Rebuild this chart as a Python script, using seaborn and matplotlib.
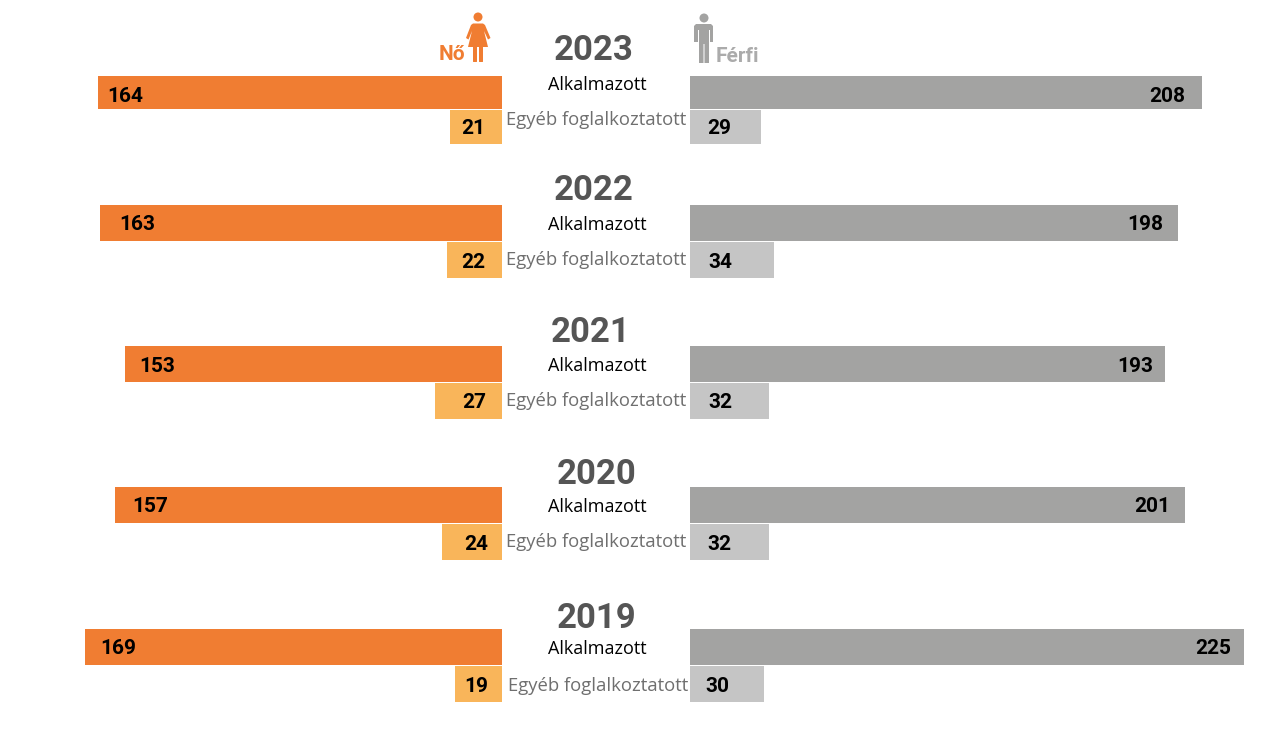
"""
Employees by gender and employment type, 2019-2023 (butterfly bars).
"""
import matplotlib
matplotlib.use('Agg')
import matplotlib.pyplot as plt
from matplotlib.patches import Circle, Polygon, FancyBboxPatch
import pandas as pd
import seaborn as sns

YEARS = ['2023', '2022', '2021', '2020', '2019']
KINDS = ['Alkalmazott', 'Egyéb foglalkoztatott']
WOMEN_EMPLOYED = [164, 163, 153, 157, 169]
WOMEN_OTHER = [21, 22, 27, 24, 19]
MEN_EMPLOYED = [208, 198, 193, 201, 225]
MEN_OTHER = [29, 34, 32, 32, 30]

WIDTH, HEIGHT = 1281, 730
PX_PER_UNIT = 2.463
LEFT_BASE = 501.5
RIGHT_BASE = 690
# top and bottom pixel of each year's bar pair
ROW_SPANS = [(75.5, 144), (204.5, 278), (345.5, 419), (486.5, 560), (628.5, 702)]
YEAR_POS = [(594, 48), (594, 188), (591, 330), (597, 472), (597, 616)]
LABEL_Y = [(83, 119), (223, 259), (364, 400), (505, 541), (647, 685)]
OTHER_LABEL_X = [596, 596, 596, 596, 598]
# value label centres
W_EMP_X = [125.5, 137.5, 157.5, 150.5, 118.5]
W_OTH_X = [473, 473, 474, 476.5, 476.5]
M_EMP_X = [1167.5, 1145.5, 1135.5, 1152.5, 1213.5]
M_OTH_X = [719, 720, 720, 719.5, 717.5]
BAR_Y = [(94, 127), (223, 260), (364, 401), (505, 542), (647, 684)]

ORANGE = '#F07D32'
LIGHT_ORANGE = '#F9B55A'
GREY = '#A3A3A2'
LIGHT_GREY = '#C5C5C5'


def bar_panel(rect, values, colors, xlim):
    """
    Draws one pair of bars in an axes placed at the pixel rect
    (left, top, right, bottom).
    """
    left, top, right, bottom = rect
    ax = plt.gcf().add_axes([left / WIDTH, 1 - bottom / HEIGHT,
                             (right - left) / WIDTH, (bottom - top) / HEIGHT])
    data = pd.DataFrame({'kind': KINDS, 'value': values})
    sns.barplot(data=data, x='value', y='kind', hue='kind', palette=colors,
                legend=False, width=0.98, saturation=1, linewidth=0, ax=ax)
    ax.set_xlim(*xlim)
    ax.set_ylim(1.5, -0.5)
    ax.axis('off')


def draw_icons(ax):
    """
    Draws the woman and man pictograms in pixel coordinates.
    """
    ax.add_patch(Circle((478, 17), 4.5, color=ORANGE, lw=0))
    ax.add_patch(Polygon([(473, 23.5), (483, 23.5), (485, 25), (490.5, 38),
                          (488, 39.5), (484, 31), (488, 47), (468, 47),
                          (472, 31), (468.5, 39.5), (466, 38), (471, 25)],
                         color=ORANGE, lw=0))
    ax.add_patch(FancyBboxPatch((473.5, 46), 3, 15.5, boxstyle='round,pad=0.5',
                                color=ORANGE, lw=0))
    ax.add_patch(FancyBboxPatch((479.5, 46), 3, 15.5, boxstyle='round,pad=0.5',
                                color=ORANGE, lw=0))
    ax.add_patch(Circle((704, 18), 4.5, color=GREY, lw=0))
    ax.add_patch(Polygon([(696, 24), (711, 24), (713, 26), (713, 42),
                          (710, 42), (710, 30), (709, 30), (709, 63),
                          (704.5, 63), (704.5, 44), (703.5, 44), (703.5, 63),
                          (699, 63), (699, 30), (698, 30), (698, 42),
                          (694, 42), (694, 26)], color=GREY, lw=0))


def main():
    sns.set_theme(style='white')
    plt.rcParams['font.family'] = ['Roboto', 'DejaVu Sans']
    fig = plt.figure(figsize=(WIDTH / 100, HEIGHT / 100), dpi=100)

    for i in range(len(YEARS)):
        top, bottom = ROW_SPANS[i]
        bar_panel((0, top, LEFT_BASE, bottom),
                  [WOMEN_EMPLOYED[i], WOMEN_OTHER[i]],
                  [ORANGE, LIGHT_ORANGE], (LEFT_BASE / PX_PER_UNIT, 0))
        bar_panel((RIGHT_BASE, top, WIDTH, bottom),
                  [MEN_EMPLOYED[i], MEN_OTHER[i]],
                  [GREY, LIGHT_GREY], (0, (WIDTH - RIGHT_BASE) / PX_PER_UNIT))

    # overlay in pixel coordinates for the text and the icons
    over = fig.add_axes([0, 0, 1, 1])
    over.set_xlim(0, WIDTH)
    over.set_ylim(HEIGHT, 0)
    over.axis('off')
    center = {'ha': 'center', 'va': 'center'}
    for i, year in enumerate(YEARS):
        over.text(YEAR_POS[i][0], YEAR_POS[i][1] + 2, year, fontsize=25,
                  fontweight='bold', color='#555555', **center)
        over.text(597, LABEL_Y[i][0] + 2, KINDS[0], fontsize=13, color='black',
                  family='Open Sans', **center)
        over.text(OTHER_LABEL_X[i], LABEL_Y[i][1] + 1, KINDS[1], fontsize=13.3,
                  color='#6F6F6F', family='Open Sans', **center)
        y_emp, y_oth = BAR_Y[i]
        for x, y, val in [(W_EMP_X[i], y_emp, WOMEN_EMPLOYED[i]),
                          (W_OTH_X[i], y_oth, WOMEN_OTHER[i]),
                          (M_EMP_X[i], y_emp, MEN_EMPLOYED[i]),
                          (M_OTH_X[i], y_oth, MEN_OTHER[i])]:
            over.text(x, y + 2, str(val), fontsize=15, fontweight='bold',
                      color='black', **center)
    over.text(452, 55, 'Nő', fontsize=15, fontweight='bold', color=ORANGE,
              **center)
    over.text(737, 57, 'Férfi', fontsize=15, fontweight='bold',
              color='#ABABAB', **center)
    draw_icons(over)

    plt.savefig('out.png', dpi=100, facecolor='white')


if __name__ == '__main__':
    main()
